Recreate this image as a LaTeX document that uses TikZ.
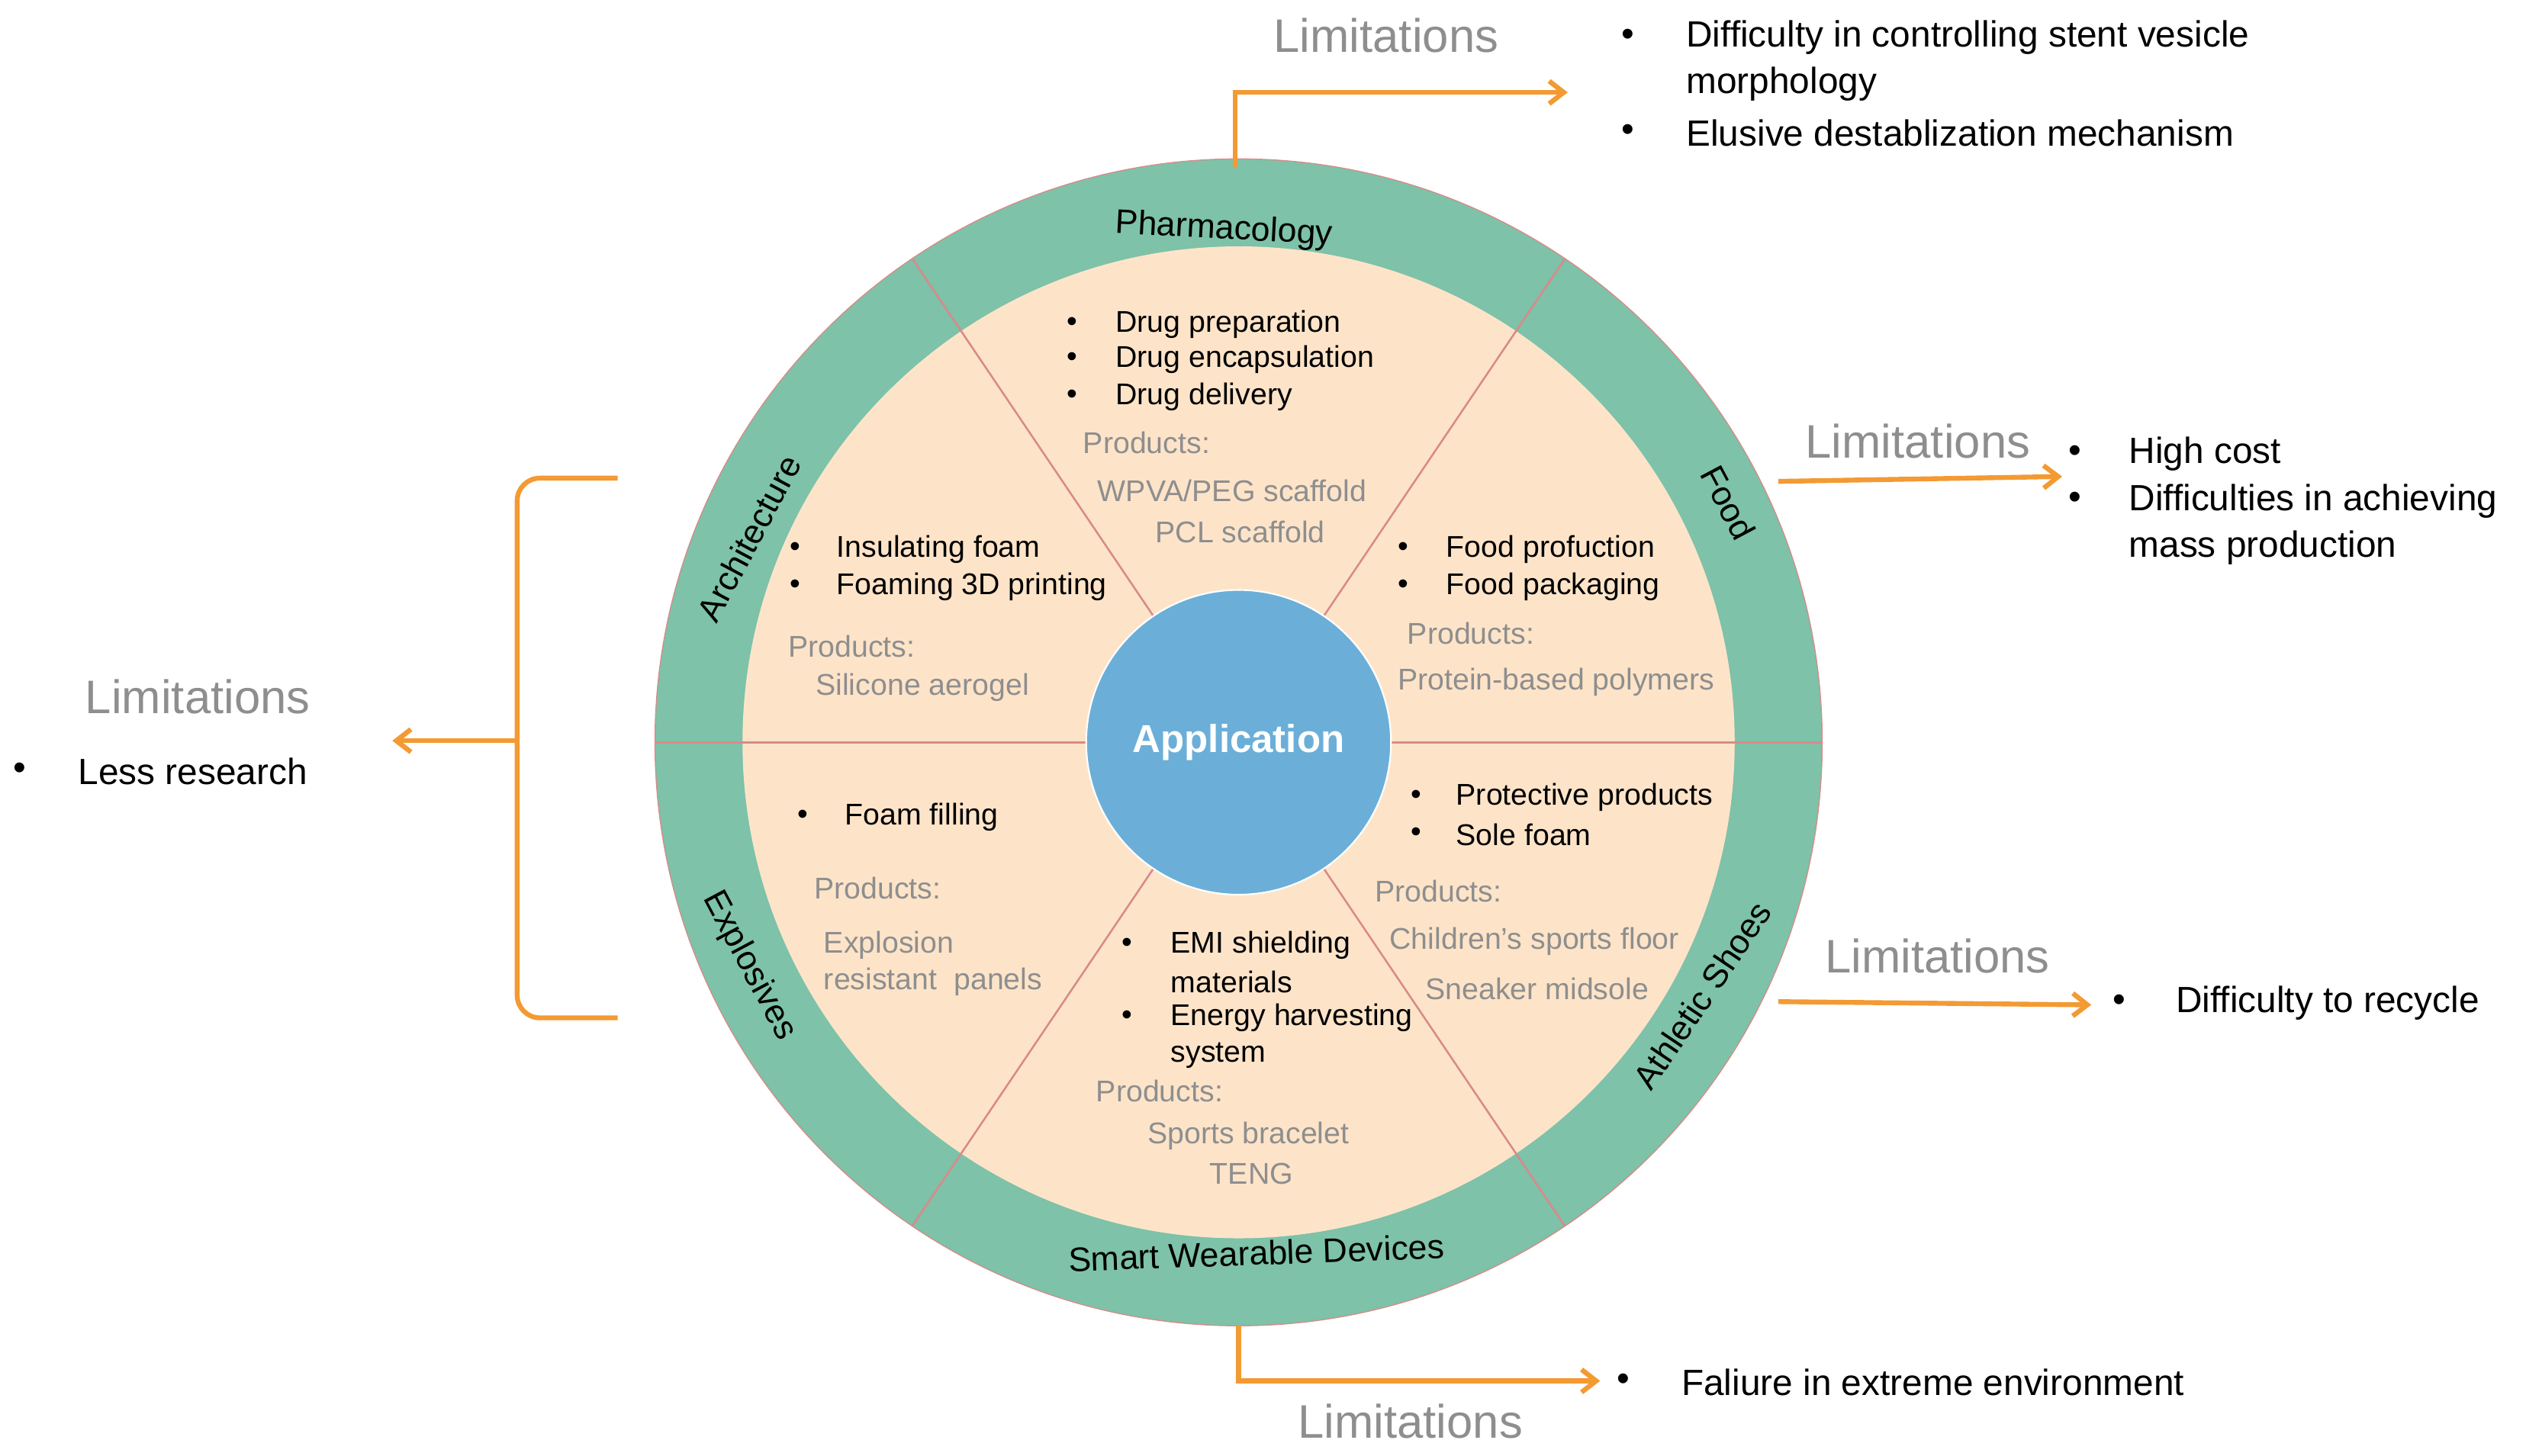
\documentclass[tikz,border=0pt]{standalone}
\usepackage{fontspec}
\setmainfont{Liberation Sans}
\usetikzlibrary{arrows.meta}
\definecolor{ring}{HTML}{7DC2A9}
\definecolor{peach}{HTML}{FDE4C9}
\definecolor{cblue}{HTML}{6BAFD8}
\definecolor{sep}{HTML}{D98A88}
\definecolor{org}{HTML}{F39A33}
\definecolor{gtxt}{HTML}{8E8E8E}
\tikzset{
 blk/.style={anchor=west,inner sep=0,font=\fontsize{18.5}{22}\selectfont},
 gry/.style={blk,text=gtxt},
 big/.style={anchor=west,inner sep=0,font=\fontsize{22.5}{26}\selectfont},
 lim/.style={inner sep=0,text=gtxt,font=\fontsize{29}{32}\selectfont},
 rl/.style={inner sep=0,font=\fontsize{21}{24}\selectfont},
 arr/.style={org,line width=3pt,-{Straight Barb[length=9pt,width=14pt]}},
 brk/.style={org,line width=3pt,rounded corners=14pt}
}
\begin{document}
\begin{tikzpicture}[x=1pt,y=-1pt]
\useasboundingbox (0,0) rectangle (1568,898);
\coordinate (c) at (764,458);
\fill[ring] (c) circle (360);
\draw[sep,line width=0.6pt] (c) circle (360);
\fill[peach] (c) circle (306);
\foreach \a in {0,56,124,180,236,304}
  \draw[sep,line width=1.2pt] (c) -- ++(\a:360);
\node[circle,fill=cblue,draw=white,line width=1pt,minimum size=188pt,inner sep=0,text=white,font=\bfseries\fontsize{24}{28}\selectfont] (app) at (c) {Application};
% ring labels
\node[rl,rotate=-3] (ph) at (755,142) {Pharmacology};
\node[rl,rotate=62] (ar) at (462,332) {Architecture};
\node[rl,rotate=-62] (fo) at (1066,310) {Food};
\node[rl,rotate=56] (at) at (1050,614) {Athletic Shoes};
\node[rl,rotate=-62] (ex) at (462,596) {Explosives};
\node[rl,rotate=2] (sw) at (775,773) {Smart Wearable Devices};
% pharmacology
\foreach \y/\t [count=\i] in {200/Drug preparation,222/Drug encapsulation,245/Drug delivery}{
  \node[blk] (pb\i) at (658,\y) {•}; \node[blk] (pt\i) at (688,\y) {\t};}
\node[gry] (pp) at (668,273) {Products:};
\node[gry,anchor=center] (pp1) at (760,303) {WPVA/PEG scaffold};
\node[gry,anchor=center] (pp2) at (765,328) {PCL scaffold};
% architecture
\foreach \y/\t [count=\i] in {339/Insulating foam,362/Foaming 3D printing}{
  \node[blk] (ab\i) at (487,\y) {•}; \node[blk] (at\i) at (516,\y) {\t};}
\node[gry] (ap) at (486,399) {Products:};
\node[gry] (ap1) at (503,424) {Silicone aerogel};
% food
\foreach \y/\t [count=\i] in {339/Food profuction,362/Food packaging}{
  \node[blk] (fb\i) at (862,\y) {•}; \node[blk] (ft\i) at (892,\y) {\t};}
\node[gry] (fp) at (868,391) {Products:};
\node[gry] (fp1) at (862,421) {Protein-based polymers};
% athletic
\foreach \y/\t [count=\i] in {492/Protective products,515/Sole foam}{
  \node[blk] (sb\i) at (870,\y) {•}; \node[blk] (st\i) at (898,\y) {\t};}
\node[gry] (sp) at (848,550) {Products:};
\node[gry] (sp1) at (857,581) {Children's sports floor};
\node[gry] (sp2) at (879,610) {Sneaker midsole};
% explosives
\node[blk] (eb1) at (492,504) {•}; \node[blk] (et1) at (521,504) {Foam filling};
\node[gry] (ep) at (502,548) {Products:};
\node[gry] (ep1) at (508,583) {Explosion};
\node[gry] (ep2) at (508,606) {resistant\ \ panels};
% smart wearable
\node[blk] (wb1) at (692,583) {•}; \node[blk] (wt1) at (722,583) {EMI shielding};
\node[blk] (wt2) at (722,606) {materials};
\node[blk] (wb2) at (692,628) {•}; \node[blk] (wt3) at (722,628) {Energy harvesting};
\node[blk] (wt4) at (722,651) {system};
\node[gry] (wp) at (676,673) {Products:};
\node[gry,anchor=center] (wp1) at (770,701) {Sports bracelet};
\node[gry,anchor=center] (wp2) at (772,724) {TENG};
% limitations: top
\node[lim] (l1) at (855,22) {Limitations};
\coordinate (t0) at (762,103); \coordinate (t1) at (762,57); \coordinate (t2) at (967,57);
\draw[arr] (t0) -- (t1) -- (t2);
\node[big] (r1a) at (1000,23) {•}; \node[big] (r1b) at (1040,23) {Difficulty in controlling stent vesicle};
\node[big] (r1c) at (1040,52) {morphology};
\node[big] (r1d) at (1000,82) {•}; \node[big] (r1e) at (1040,82) {Elusive destablization mechanism};
% food
\node[lim] (l2) at (1183,272) {Limitations};
\coordinate (f0) at (1097,297); \coordinate (f1) at (1272,294);
\draw[arr] (f0) -- (f1);
\node[big] (r2a) at (1276,280) {•}; \node[big] (r2b) at (1313,280) {High cost};
\node[big] (r2c) at (1276,309) {•}; \node[big] (r2d) at (1313,309) {Difficulties in achieving};
\node[big] (r2e) at (1313,338) {mass production};
% athletic
\node[lim] (l3) at (1195,590) {Limitations};
\coordinate (a0) at (1097,618); \coordinate (a1) at (1290,620);
\draw[arr] (a0) -- (a1);
\node[big] (r3a) at (1303,619) {•}; \node[big] (r3b) at (1342,619) {Difficulty to recycle};
% bottom
\node[lim] (l4) at (870,877) {Limitations};
\coordinate (b0) at (764,818); \coordinate (b1) at (764,852); \coordinate (b2) at (987,852);
\draw[arr] (b0) -- (b1) -- (b2);
\node[big] (r4a) at (997,853) {•}; \node[big] (r4b) at (1037,853) {Faliure in extreme environment};
% left
\node[lim] (l5) at (122,430) {Limitations};
\coordinate (k0) at (381,295); \coordinate (k1) at (319,295); \coordinate (k2) at (319,628); \coordinate (k3) at (381,628);
\coordinate (k4) at (319,457); \coordinate (k5) at (242,457);
\draw[brk] (k0) -- (k1) -- (k2) -- (k3);
\draw[arr] (k4) -- (k5);
\node[big] (r5a) at (8,476) {•}; \node[big] (r5b) at (48,476) {Less research};
\end{tikzpicture}
\end{document}
